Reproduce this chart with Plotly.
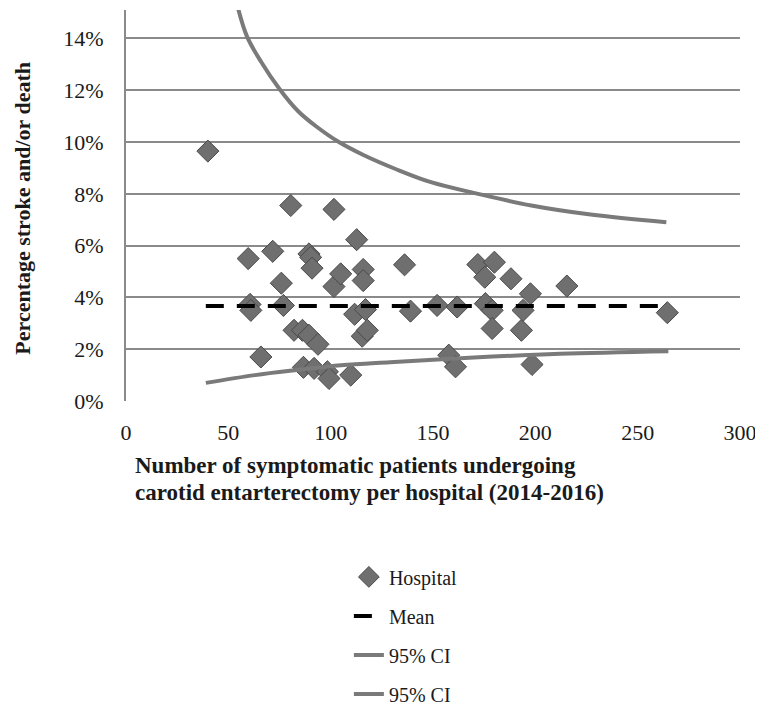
import plotly.graph_objects as go

# Hospital scatter: number of symptomatic CEA patients vs % stroke and/or death
hosp_n = [40, 59.7, 60.6, 61, 65.9, 71.7, 75.9, 76.9, 80.5, 82.1, 86.2, 86.7,
          89.4, 89.4, 90.2, 90.9, 91.9, 93.8, 98.4, 99.2, 101.6, 101.6, 104.9,
          109.8, 111.7, 112.7, 115.4, 115.9, 115.9, 117, 117.9, 136.1, 139,
          152, 157.7, 161, 161.8, 171.9, 175.3, 175.6, 178.9, 178.9, 180,
          188.1, 193.2, 194, 197.6, 198.4, 215.4, 264.5]
hosp_pct = [9.65, 5.5, 3.73, 3.5, 1.7, 5.78, 4.55, 3.69, 7.55, 2.73, 2.73, 1.3,
            5.68, 2.54, 5.55, 5.13, 1.26, 2.19, 1.13, 0.87, 7.4, 4.42, 4.91,
            1.0, 3.35, 6.23, 2.5, 5.08, 4.65, 3.53, 2.73, 5.26, 3.47,
            3.69, 1.77, 1.32, 3.63, 5.27, 4.78, 3.76, 3.5, 2.8, 5.36,
            4.72, 2.73, 3.5, 4.14, 1.41, 4.44, 3.41]

mean_n = [39, 264]
mean_pct = [3.67, 3.67]

upper_n = [54, 59, 66, 75, 84, 93, 104, 116, 132, 149, 172, 198, 227, 264]
upper_pct = [15.4, 14.1, 13.1, 12.05, 11.2, 10.6, 10.0, 9.5, 8.95, 8.45, 8.0, 7.55, 7.2, 6.9]

lower_n = [39, 63, 84, 105, 129, 170, 212, 265]
lower_pct = [0.7, 1.0, 1.2, 1.38, 1.5, 1.68, 1.82, 1.92]

x_ticks = [0, 50, 100, 150, 200, 250, 300]
y_ticks = [0, 2, 4, 6, 8, 10, 12, 14]

x_title_lines = ["Number of symptomatic patients undergoing",
                 "carotid entarterectomy per hospital (2014-2016)"]
y_title = "Percentage stroke and/or death"

SERIF = "Liberation Serif, DejaVu Serif, serif"
TXT = "#1a1a1a"
CI_COLOR = "#7a7a7a"

fig = go.Figure()
fig.add_trace(go.Scatter(
    x=hosp_n, y=[v / 100 for v in hosp_pct], mode="markers", name="Hospital",
    legendgroup="a",
    marker=dict(symbol="diamond", size=17, color="#6f6f6f",
                line=dict(color="#4a4a4a", width=1)),
))
fig.add_trace(go.Scatter(
    x=mean_n, y=[v / 100 for v in mean_pct], mode="lines", name="Mean",
    legendgroup="b",
    line=dict(color="black", width=4, dash="18px,13px"),
))
fig.add_trace(go.Scatter(
    x=upper_n, y=[v / 100 for v in upper_pct], mode="lines", name="95% CI",
    legendgroup="c",
    line=dict(color=CI_COLOR, width=4, shape="spline"),
))
fig.add_trace(go.Scatter(
    x=lower_n, y=[v / 100 for v in lower_pct], mode="lines", name="95% CI",
    legendgroup="d",
    line=dict(color=CI_COLOR, width=4, shape="spline"),
))

annotations = [
    dict(text="<b>" + x_title_lines[0] + "</b>", xref="paper", yref="paper",
         x=0.011, y=-0.166, xanchor="left", yanchor="middle", showarrow=False,
         font=dict(size=23, family=SERIF, color=TXT)),
    dict(text="<b>" + x_title_lines[1] + "</b>", xref="paper", yref="paper",
         x=0.011, y=-0.233, xanchor="left", yanchor="middle", showarrow=False,
         font=dict(size=23, family=SERIF, color=TXT)),
    dict(text="<b>" + y_title + "</b>", xref="paper", yref="paper",
         x=-0.168, y=0.494, xanchor="center", yanchor="middle", textangle=-90,
         showarrow=False, font=dict(size=22, family=SERIF, color=TXT)),
]

fig.update_layout(
    width=755, height=697,
    paper_bgcolor="white", plot_bgcolor="white",
    margin=dict(l=118, r=23, t=2, b=304, autoexpand=False),
    font=dict(family=SERIF, color=TXT),
    showlegend=True,
    legend=dict(
        x=0.363, xanchor="left", y=-0.40, yanchor="top",
        font=dict(size=20, family=SERIF, color=TXT),
        tracegroupgap=10, traceorder="grouped",
        bgcolor="rgba(0,0,0,0)",
    ),
    annotations=annotations,
)
fig.update_xaxes(
    range=[0, 300], tickvals=x_ticks, ticktext=[str(t) for t in x_ticks],
    showgrid=False, zeroline=False, showline=False,
    ticks="", ticklabelstandoff=16,
    tickfont=dict(size=22, family=SERIF, color=TXT),
)
fig.update_yaxes(
    range=[0, 0.151], tickvals=[t / 100 for t in y_ticks],
    ticktext=[f"{t}%" for t in y_ticks],
    showgrid=True, gridcolor="#8a8a8a", gridwidth=1.5,
    zeroline=False, showline=True, linecolor="#8a8a8a", linewidth=2,
    ticks="", ticklabelstandoff=16,
    tickfont=dict(size=22, family=SERIF, color=TXT),
)

fig.write_html("out.html")
